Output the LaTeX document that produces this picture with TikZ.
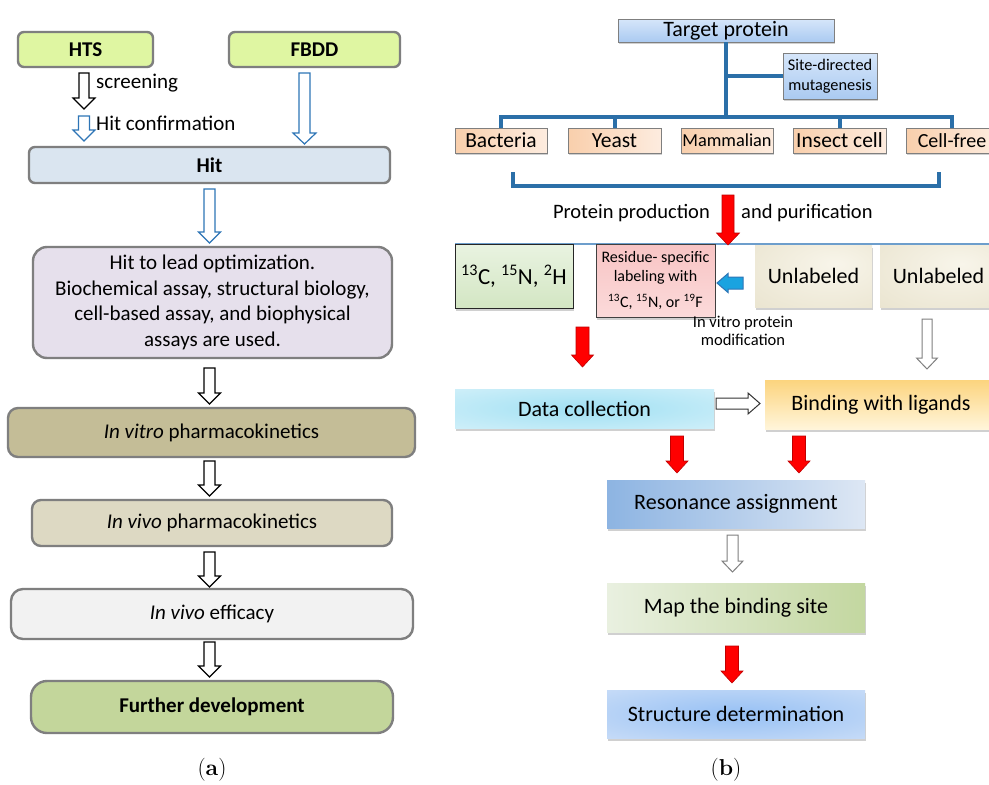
\documentclass[tikz,border=0pt]{standalone}
\usepackage{fontspec}
\newfontfamily\carl{Carlito}
\usetikzlibrary{shadows}
\definecolor{lgray}{HTML}{7F7F7F}
\definecolor{htsgreen}{HTML}{DFF6A2}
\definecolor{hitblue}{HTML}{DAE5F0}
\definecolor{lav}{HTML}{E6E0EC}
\definecolor{khaki}{HTML}{C4BD97}
\definecolor{lkhaki}{HTML}{DDD9C3}
\definecolor{lfill}{HTML}{F2F2F2}
\definecolor{fgreen}{HTML}{C3D69B}
\definecolor{arrblue}{HTML}{2E75B6}
\definecolor{bline}{HTML}{2B6FA8}
\definecolor{peachL}{HTML}{F9CFAC}
\definecolor{peachR}{HTML}{FDECDF}
\definecolor{tpTop}{HTML}{D6E6FA}
\definecolor{tpBot}{HTML}{AACAF1}
\definecolor{redarr}{HTML}{FF0000}
\definecolor{redline}{HTML}{C00000}
\definecolor{cyanarr}{HTML}{1AA3E0}
\definecolor{labTop}{HTML}{E9F3E1}
\definecolor{labBot}{HTML}{D3E6C3}
\definecolor{pinkTop}{HTML}{F8C4C4}
\definecolor{pinkBot}{HTML}{FBDADA}
\definecolor{bindTop}{HTML}{FCD47E}
\definecolor{bindBot}{HTML}{FFF5DA}
\definecolor{resL}{HTML}{8DB4E2}
\definecolor{resR}{HTML}{DDE7F4}
\definecolor{mapL}{HTML}{E9F0E0}
\definecolor{mapR}{HTML}{C3D7A0}
\definecolor{unlA}{HTML}{F8F5EA}
\definecolor{unlB}{HTML}{E8E2CC}
\definecolor{unlC}{HTML}{E4DDC6}
\definecolor{dataA}{HTML}{A0E0F3}
\definecolor{dataB}{HTML}{DEF4FB}
\definecolor{dataC}{HTML}{E8F7FC}
\definecolor{strA}{HTML}{96C0F4}
\definecolor{strB}{HTML}{D6E4F8}
\definecolor{strC}{HTML}{E0EAF9}
\pgfdeclareradialshading{unlshade}{\pgfpoint{10bp}{10bp}}{color(0bp)=(unlA); color(50bp)=(unlB); color(80bp)=(unlC)}
\pgfdeclareradialshading{datashade}{\pgfpoint{0bp}{0bp}}{color(0bp)=(dataA); color(48bp)=(dataB); color(75bp)=(dataC)}
\pgfdeclareradialshading{strshade}{\pgfpoint{0bp}{0bp}}{color(0bp)=(strA); color(48bp)=(strB); color(75bp)=(strC)}
\newcommand\vblock[7]{\draw[#1] ({#2-#5},#3) -- ({#2+#5},#3) -- ({#2+#5},{#4-#7}) -- ({#2+#6},{#4-#7}) -- (#2,#4) -- ({#2-#6},{#4-#7}) -- ({#2-#5},{#4-#7}) -- cycle;}
\newcommand\hblock[7]{\draw[#1] (#3,{#2-#5}) -- ({#4-(#7)},{#2-#5}) -- ({#4-(#7)},{#2-#6}) -- (#4,#2) -- ({#4-(#7)},{#2+#6}) -- ({#4-(#7)},{#2+#5}) -- (#3,{#2+#5}) -- cycle;}
\tikzset{
  lbox/.style={draw=lgray, line width=2.4pt, rounded corners=6pt, inner sep=0pt, align=center,
    font=\carl\fontsize{21}{25.6}\selectfont},
  rbox/.style={inner sep=0pt, align=center, font=\carl\fontsize{22}{26}\selectfont,
    drop shadow={shadow xshift=1pt, shadow yshift=-3pt, opacity=0.3, fill=black!60}},
  ebox/.style={draw=lgray, line width=0.8pt, inner sep=0pt, left color=peachL, right color=peachR,
    minimum height=25pt, font=\carl\fontsize{21.5}{25}\selectfont,
    drop shadow={shadow xshift=1pt, shadow yshift=-2pt, opacity=0.3, fill=black!60}},
  tbox/.style={draw=lgray, line width=0.8pt, inner sep=0pt, top color=tpTop, bottom color=tpBot, align=center,
    drop shadow={shadow xshift=1pt, shadow yshift=-2pt, opacity=0.3, fill=black!60}},
  bln/.style={draw=bline, line width=4pt},
  blackarr/.style={draw=black, line width=1.2pt, fill=white, line join=miter},
  bluearr/.style={draw=arrblue, line width=1.2pt, fill=white, line join=miter},
  grayarr/.style={draw=lgray, line width=1pt, fill=white, line join=miter},
  redblock/.style={draw=redline, line width=0.6pt, fill=redarr},
  txt/.style={inner sep=0pt, font=\carl\fontsize{21}{25.6}\selectfont},
  capt/.style={inner sep=0pt, font=\fontsize{23}{27}\selectfont},
}
\begin{document}
\begin{tikzpicture}[x=1pt, y=-1pt]
\useasboundingbox[fill=white] (0,0) rectangle (989,785);
% ---------- panel (a) ----------
\node[lbox, fill=htsgreen, minimum width=135pt, minimum height=35pt, font=\carl\bfseries\fontsize{21}{25}\selectfont] (hts) at (85.5,49.5) {HTS};
\node[lbox, fill=htsgreen, minimum width=171pt, minimum height=35pt, font=\carl\bfseries\fontsize{21}{25}\selectfont] (fbdd) at (314.5,49.5) {FBDD};
\node[lbox, fill=hitblue, minimum width=361pt, minimum height=36pt, font=\carl\bfseries\fontsize{21}{25}\selectfont] (hit) at (209.5,165) {Hit};
\node[lbox, fill=lav, rounded corners=14pt, minimum width=359pt, minimum height=111pt] (lead) at (212.5,302.5)
  {Hit to lead optimization.\\Biochemical assay, structural biology,\\cell-based assay, and biophysical\\assays are used.};
\node[lbox, fill=khaki, rounded corners=10pt, minimum width=407pt, minimum height=49pt] (vitro) at (211.5,432.5) {\textit{In vitro} pharmacokinetics};
\node[lbox, fill=lkhaki, rounded corners=9pt, minimum width=360pt, minimum height=46pt] (vivo) at (212,523) {\textit{In vivo} pharmacokinetics};
\node[lbox, fill=lfill, rounded corners=12pt, minimum width=402pt, minimum height=50pt] (eff) at (212,614) {\textit{In vivo} efficacy};
\node[lbox, fill=fgreen, rounded corners=16pt, minimum width=362pt, minimum height=52pt, font=\carl\bfseries\fontsize{21}{25}\selectfont] (further) at (212,707) {Further development};
\node[txt, anchor=west] (scr) at (96,83) {screening};
\node[txt, anchor=west] (hconf) at (96,123) {Hit confirmation};
\node[capt] (capa) at (212,770) {(\textbf{a})};
% arrows (a)
\vblock{blackarr}{84}{73}{109}{5}{11}{11}
\vblock{bluearr}{84}{116}{141}{5.5}{11}{11}
\vblock{bluearr}{304.5}{73}{144}{5.5}{11.5}{11}
\vblock{bluearr}{209.5}{189}{243}{5.5}{11}{11}
\vblock{blackarr}{209.5}{368}{404}{5.5}{11}{11}
\vblock{blackarr}{209.5}{461}{496}{5.5}{11}{11}
\vblock{blackarr}{209.5}{552}{587}{5.5}{11}{11}
\vblock{blackarr}{209.5}{642}{677}{5.5}{11}{11}
% ---------- panel (b) ----------
\coordinate (bar) at (0,117);
\node[tbox, minimum width=216pt, minimum height=23pt, font=\carl\fontsize{22}{26}\selectfont] (target) at (726,30.5) {Target protein};
\node[tbox, minimum width=94pt, minimum height=46pt, font=\carl\fontsize{16.3}{19.5}\selectfont] (site) at (830,76) {Site-directed\\mutagenesis};
\node[ebox, minimum width=92pt] (bact) at (501,140.5) {Bacteria};
\node[ebox, minimum width=93pt] (yeast) at (614.5,140.5) {Yeast};
\node[ebox, minimum width=92pt, font=\carl\fontsize{18.3}{22}\selectfont] (mamm) at (727,140.5) {Mammalian};
\node[ebox, minimum width=93pt] (insect) at (839.5,140.5) {Insect cell};
\node[ebox, minimum width=92pt, font=\carl\fontsize{20}{24}\selectfont] (cfree) at (952,140.5) {Cell-free};
\draw[bln] (target.south) -- (target.south |- bar);
\draw[bln] (target.south |- site.west) -- (site.west);
\draw[bln, line join=miter] (bact.north) -- (bact.north |- bar) -- (cfree.north |- bar) -- (cfree.north);
\draw[bln] (yeast.north) -- (yeast.north |- bar);
\draw[bln] (insect.north) -- (insect.north |- bar);
\coordinate (brA) at (513,172);
\coordinate (brB) at (939,172);
\draw[bln, line join=miter] (brA) -- ++(0,14) -- ([yshift=-14pt]brB) -- (brB);
\node[txt, anchor=east, font=\carl\fontsize{20.5}{24}\selectfont] (prod) at (710,213) {Protein production};
\node[txt, anchor=west, font=\carl\fontsize{20.5}{24}\selectfont] (purif) at (741,213) {and purification};
\coordinate (lineL) at (455,244);
\coordinate (lineR) at (989,244);
\draw[draw=arrblue!70, line width=1.2pt] (lineL) -- (lineR);
\node[rbox, draw=black!85, line width=0.8pt, top color=labTop, bottom color=labBot,
  minimum width=118pt, minimum height=64pt, font=\carl\fontsize{23}{27}\selectfont] (lab) at (514,276)
  {\textsuperscript{13}C, \textsuperscript{15}N, \textsuperscript{2}H};
\node[rbox, draw=black!75, line width=0.8pt, top color=pinkTop, bottom color=pinkBot,
  minimum width=119pt, minimum height=73pt, font=\carl\fontsize{16}{19}\selectfont] (res) at (655.5,280.5)
  {Residue- specific\\labeling with\\[7pt]\textsuperscript{13}C, \textsuperscript{15}N, or \textsuperscript{19}F};
\node[rbox, shading=unlshade, minimum width=117pt, minimum height=62pt] (unl1) at (813.5,276) {Unlabeled};
\node[rbox, shading=unlshade, minimum width=117pt, minimum height=62pt] (unl2) at (938.5,276) {Unlabeled};
\node[txt, align=center, font=\carl\fontsize{16.5}{18}\selectfont] (ivm) at (743,331) {In vitro protein\\modification};
\node[rbox, shading=datashade, minimum width=259pt, minimum height=39pt] (data) at (584.5,408.5) {Data collection};
\node[rbox, top color=bindTop, bottom color=bindBot,
  minimum width=232pt, minimum height=49pt] (bind) at (881,404.5) {Binding with ligands};
\node[rbox, left color=resL, right color=resR,
  minimum width=258pt, minimum height=48pt] (reson) at (736,504) {Resonance assignment};
\node[rbox, left color=mapL, right color=mapR,
  minimum width=258pt, minimum height=49pt] (map) at (736,607.5) {Map the binding site};
\node[rbox, shading=strshade, minimum width=258pt, minimum height=48pt] (struct) at (736,714) {Structure determination};
\node[capt] (capb) at (726,770) {(\textbf{b})};
% arrows (b)
\vblock{redblock}{728}{195}{245}{6}{11.5}{12}
\vblock{redblock}{582.5}{327}{367}{6.5}{11}{12}
\vblock{redblock}{677}{436}{473}{6.5}{11}{12}
\vblock{redblock}{799}{436}{473}{6.5}{11}{12}
\vblock{redblock}{732}{646}{683}{6.5}{11}{12}
\vblock{grayarr}{927}{319}{369}{5}{10.5}{11}
\vblock{grayarr}{732.5}{535}{572}{5.5}{10.5}{11}
\hblock{draw=black!80, line width=1pt, fill=white}{403.5}{716}{760}{5.5}{10.5}{12}
\hblock{draw=arrblue, line width=1pt, fill=cyanarr}{283}{743}{717}{6}{9.5}{-11}
\end{tikzpicture}
\end{document}
